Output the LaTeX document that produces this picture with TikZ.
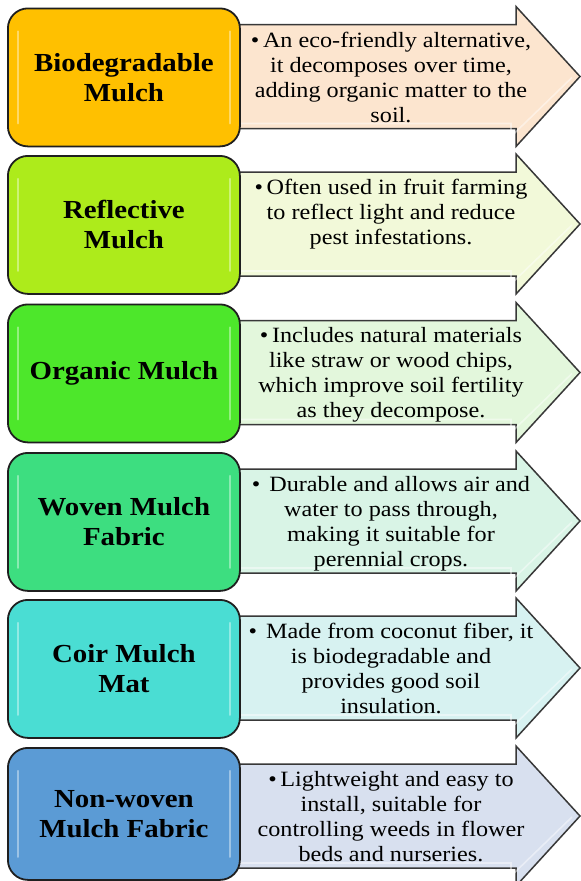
\documentclass[tikz,border=0pt]{standalone}
\usepackage{fontspec}
\setmainfont{Liberation Serif}[FakeStretch=1.11]
\definecolor{boxA}{HTML}{FFC000}
\definecolor{boxB}{HTML}{ADEB1B}
\definecolor{boxC}{HTML}{4DE72B}
\definecolor{boxD}{HTML}{3DDE80}
\definecolor{boxE}{HTML}{4ADDD3}
\definecolor{boxF}{HTML}{5B9BD5}
\definecolor{arrA}{HTML}{FCE5CF}
\definecolor{arrB}{HTML}{F2F9D9}
\definecolor{arrC}{HTML}{E3F7DC}
\definecolor{arrD}{HTML}{D9F4E6}
\definecolor{arrE}{HTML}{D7F2F1}
\definecolor{arrF}{HTML}{D8E0EF}
\newcommand\mulchrow[7]{%
  % #1 name, #2 centre y, #3 box colour, #4 arrow colour, #5 box height, #6 title, #7 description
  \path[arrowbody, fill=#4] (225,#2-52) -- (516,#2-52) -- (516,#2-70) -- (580,#2)
        -- (516,#2+70) -- (516,#2+52) -- (225,#2+52) -- cycle;
  \draw[arrowgloss] (230,#2+47) -- (511,#2+47) -- (511,#2+60) -- (572,#2+1);
  \node[titlebox, fill=#3, minimum height=#5pt, anchor=north west] (box#1) at (7,#2-69) {};
  \draw[gloss] ([xshift=11pt,yshift=-24pt]box#1.north west) -- ([xshift=11pt,yshift=24pt]box#1.south west);
  \draw[gloss] ([xshift=-11pt,yshift=-24pt]box#1.north east) -- ([xshift=-11pt,yshift=24pt]box#1.south east);
  \node[titletext] (title#1) at (box#1.center) {#6};
  \node[desctext] (desc#1) at (391,#2-45) {#7};
}
\begin{document}
\begin{tikzpicture}[x=1pt,y=-1pt,
  titlebox/.style={draw=black!88, line width=1.8pt, rounded corners=20pt,
    minimum width=232pt, inner sep=0pt},
  titletext/.style={font=\fontsize{26}{30}\selectfont\bfseries, align=center, inner sep=0pt},
  desctext/.style={font=\fontsize{21.8}{25}\selectfont, align=center, inner sep=0pt, anchor=north},
  arrowbody/.style={draw=black!78, line width=1.5pt, line join=miter},
  arrowgloss/.style={draw=white, opacity=0.45, line width=1.6pt},
  gloss/.style={draw=white, opacity=0.4, line width=2.5pt, line cap=round}]
\useasboundingbox (0,0) rectangle (581,881);
\fill[white] (0,0) rectangle (581,881);
\clip (0,0) rectangle (581,881);

\mulchrow{1}{76.5}{boxA}{arrA}{138}{Biodegradable\\Mulch}
  {\textbullet\,An eco-friendly alternative,\\ it decomposes over time,\\ adding organic matter to the\\ soil.}
\mulchrow{2}{224}{boxB}{arrB}{138}{Reflective\\Mulch}
  {\textbullet\,Often used in fruit farming\\ to reflect light and reduce\\ pest infestations.}
\mulchrow{3}{372.5}{boxC}{arrC}{138}{Organic Mulch}
  {\textbullet\,Includes natural materials\\ like straw or wood chips,\\ which improve soil fertility\\ as they decompose.}
\mulchrow{4}{521}{boxD}{arrD}{138}{Woven Mulch\\Fabric}
  {\textbullet\hspace{9pt}Durable and allows air and\\ water to pass through,\\ making it suitable for\\ perennial crops.}
\mulchrow{5}{668}{boxE}{arrE}{138}{Coir Mulch\\Mat}
  {\textbullet\hspace{9pt}Made from coconut fiber, it\\ is biodegradable and\\ provides good soil\\ insulation.}
\mulchrow{6}{816}{boxF}{arrF}{132}{Non-woven\\Mulch Fabric}
  {\textbullet\,Lightweight and easy to\\ install, suitable for\\ controlling weeds in flower\\ beds and nurseries.}
\end{tikzpicture}
\end{document}
